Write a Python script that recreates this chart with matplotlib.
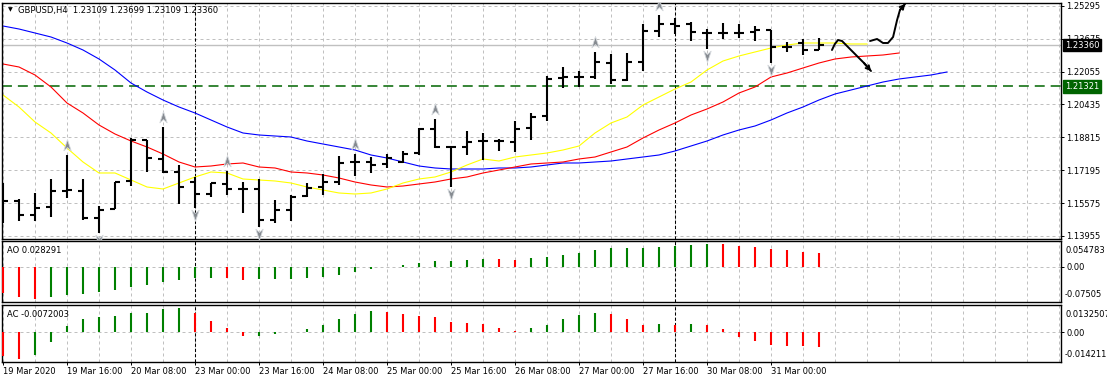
import numpy as np
import matplotlib.pyplot as plt
from matplotlib.path import Path

# --- GBPUSD H4 bars, 19 Mar 2020 00:00 .. 31 Mar 2020 ---
opens = [1.16100, 1.15679, 1.14989, 1.15383, 1.16171, 1.16171, 1.14842, 1.15285, 1.16664, 1.18682,
         1.17747, 1.17107, 1.16614, 1.16023, 1.16516, 1.16270, 1.16270, 1.14743, 1.15236, 1.15925,
         1.16368, 1.16614, 1.17599, 1.17599, 1.17501, 1.17599, 1.18042, 1.19224, 1.18338, 1.18338,
         1.18633, 1.18633, 1.18584, 1.19273, 1.19864, 1.21735, 1.21785, 1.21785, 1.22474, 1.21637,
         1.22523, 1.24050, 1.24394, 1.24394, 1.23951, 1.23951, 1.23951, 1.24000, 1.24099, 1.23262,
         1.23459, 1.23109]
highs = [1.16565, 1.15777, 1.16073, 1.16762, 1.17944, 1.16762, 1.15433, 1.16614, 1.18781, 1.18682,
         1.19323, 1.17451, 1.16861, 1.16565, 1.17156, 1.16614, 1.16762, 1.15728, 1.15974, 1.16565,
         1.17008, 1.17895, 1.17993, 1.17845, 1.17993, 1.18141, 1.19273, 1.19716, 1.18387, 1.19126,
         1.19027, 1.18732, 1.19618, 1.20012, 1.21834, 1.22277, 1.22080, 1.23016, 1.22917, 1.22966,
         1.24394, 1.24837, 1.24690, 1.24493, 1.24148, 1.24443, 1.24394, 1.24296, 1.24099, 1.23508,
         1.23656, 1.23699]
lows = [1.14596, 1.14694, 1.14694, 1.14891, 1.15827, 1.14743, 1.14103, 1.15285, 1.16417, 1.17107,
        1.17058, 1.15531, 1.15334, 1.15876, 1.15974, 1.15088, 1.14399, 1.14596, 1.14694, 1.15876,
        1.15974, 1.16467, 1.16910, 1.17058, 1.17304, 1.17550, 1.17944, 1.18289, 1.16368, 1.17944,
        1.17698, 1.18141, 1.18092, 1.18682, 1.19618, 1.21243, 1.21292, 1.21686, 1.21440, 1.21588,
        1.22080, 1.23754, 1.23902, 1.23557, 1.23163, 1.23656, 1.23705, 1.23557, 1.22474, 1.23016,
        1.22868, 1.23109]
closes = [1.15679, 1.14989, 1.15334, 1.16171, 1.16220, 1.14842, 1.15236, 1.16614, 1.18682, 1.17796,
          1.17107, 1.16368, 1.16023, 1.16565, 1.16270, 1.16270, 1.14743, 1.15236, 1.15876, 1.16319,
          1.16614, 1.17550, 1.17599, 1.17451, 1.17796, 1.17993, 1.19224, 1.18338, 1.18338, 1.18584,
          1.18633, 1.18633, 1.19224, 1.19815, 1.21686, 1.21785, 1.21785, 1.22523, 1.21637, 1.22523,
          1.24050, 1.24394, 1.24296, 1.24000, 1.23951, 1.23951, 1.23951, 1.24099, 1.23262, 1.23262,
          1.23114, 1.23360]

# Alligator lines (already shifted forward: jaw 8, teeth 5, lips 3 bars)
jaw = [1.24296, 1.24148, 1.23951, 1.23754, 1.23459, 1.23114, 1.22671, 1.22129, 1.21489, 1.21046,
       1.20652, 1.20307, 1.20012, 1.19667, 1.19323, 1.19027, 1.18929, 1.18879, 1.18830, 1.18633,
       1.18485, 1.18338, 1.18190, 1.17944, 1.17796, 1.17599, 1.17402, 1.17304, 1.17254, 1.17254,
       1.17254, 1.17304, 1.17304, 1.17353, 1.17451, 1.17550, 1.17550, 1.17599, 1.17648, 1.17747,
       1.17845, 1.17944, 1.18141, 1.18387, 1.18633, 1.18929, 1.19175, 1.19372, 1.19667, 1.20012,
       1.20307, 1.20652, 1.20947, 1.21144, 1.21341, 1.21538, 1.21686, 1.21785, 1.21883, 1.22031]
teeth = [1.22425, 1.22277, 1.21883, 1.21292, 1.20504, 1.20012, 1.19421, 1.18978, 1.18633, 1.18338,
         1.17993, 1.17599, 1.17353, 1.17402, 1.17501, 1.17550, 1.17353, 1.17304, 1.17107, 1.17058,
         1.16959, 1.16811, 1.16614, 1.16467, 1.16368, 1.16417, 1.16516, 1.16614, 1.16762, 1.16861,
         1.17058, 1.17205, 1.17353, 1.17501, 1.17550, 1.17599, 1.17747, 1.17845, 1.18092, 1.18338,
         1.18781, 1.19175, 1.19520, 1.19913, 1.20209, 1.20554, 1.20997, 1.21292, 1.21785, 1.21981,
         1.22228, 1.22474, 1.22671, 1.22769, 1.22819, 1.22868, 1.22966]
lips = [1.20898, 1.20307, 1.19569, 1.19027, 1.18289, 1.17599, 1.17058, 1.17058, 1.16713, 1.16368,
        1.16270, 1.16565, 1.16861, 1.17107, 1.17058, 1.16762, 1.16713, 1.16664, 1.16565, 1.16368,
        1.16220, 1.16073, 1.16023, 1.16073, 1.16270, 1.16565, 1.16762, 1.16861, 1.17107, 1.17451,
        1.17747, 1.17649, 1.17845, 1.17944, 1.18042, 1.18190, 1.18387, 1.19027, 1.19520, 1.19815,
        1.20406, 1.20800, 1.21194, 1.21538, 1.22129, 1.22572, 1.22819, 1.23016, 1.23212, 1.23360,
        1.23459, 1.23459, 1.23459, 1.23410, 1.23410]

ao = [-0.0575, -0.0645, -0.0695, -0.0660, -0.0610, -0.0589, -0.0539, -0.0496, -0.0433, -0.0397,
      -0.0326, -0.0284, -0.0248, -0.0234, -0.0248, -0.0284, -0.0270, -0.0262, -0.0255, -0.0241,
      -0.0220, -0.0177, -0.0113, -0.0057, -0.0014, 0.0028, 0.0071, 0.0113, 0.0121, 0.0135,
      0.0163, 0.0156, 0.0142, 0.0177, 0.0199, 0.0241, 0.0284, 0.0348, 0.0390, 0.0394,
      0.0399, 0.0419, 0.0433, 0.0454, 0.0484, 0.0478, 0.0433, 0.0419, 0.0376, 0.0355,
      0.0312, 0.028291]
ac = [-0.0113, -0.0130, -0.0110, -0.0049, 0.0032, 0.0065, 0.0076, 0.0079, 0.0093, 0.0095,
      0.0115, 0.0120, 0.0094, 0.0055, 0.0023, -0.0019, -0.0016, -0.0008, 0.0003, 0.0016,
      0.0036, 0.0065, 0.0087, 0.0104, 0.0097, 0.0089, 0.0079, 0.0074, 0.0050, 0.0045,
      0.0040, 0.0021, 0.0006, 0.0021, 0.0036, 0.0065, 0.0084, 0.0094, 0.0089, 0.0065,
      0.0036, 0.0040, 0.0036, 0.0040, 0.0036, 0.0016, -0.0021, -0.0042, -0.0062, -0.0065,
      -0.0068, -0.0072003]

fractal_up = [4, 10, 14, 22, 27, 37, 41]
fractal_down = [6, 12, 16, 28, 44, 48]

price_levels = [1.25295, 1.23675, 1.22055, 1.20435, 1.18815, 1.17195, 1.15575, 1.13955]
price_range = (1.13822, 1.25443)
ao_range = (-0.07505, 0.054783)
ac_range = (-0.0142113, 0.0132507)
last_price = 1.23360
level_price = 1.21321

tick_bars = [0, 4, 8, 12, 16, 20, 24, 28, 32, 36, 40, 44, 48]
tick_labels = ['19 Mar 2020', '19 Mar 16:00', '20 Mar 08:00', '23 Mar 00:00', '23 Mar 16:00',
               '24 Mar 08:00', '25 Mar 00:00', '25 Mar 16:00', '26 Mar 08:00', '27 Mar 00:00',
               '27 Mar 16:00', '30 Mar 08:00', '31 Mar 00:00']
week_starts = [12, 42]

# hand drawn forecast strokes (bar, price)
sketch_down = [(51.81, 1.23114), (51.99, 1.23409), (52.19, 1.23606), (52.44, 1.23557),
               (52.81, 1.23262), (53.31, 1.22868), (53.81, 1.22474), (54.25, 1.22080)]
sketch_up = [(54.19, 1.23557), (54.63, 1.23656), (55.0, 1.23459), (55.31, 1.23459),
             (55.63, 1.23754), (55.88, 1.24591), (56.06, 1.25084), (56.38, 1.25379)]

FS = 6.0
plt.rcParams['font.family'] = 'DejaVu Sans'
plt.rcParams['font.size'] = FS

GRID = '#c0c0c0'
GREEN = '#008000'
RED = '#ff0000'

W, H = 1107, 382
fig = plt.figure(figsize=(W / 100, H / 100), dpi=100)


def box(x0, y0, x1, y1):
    return [x0 / W, 1 - y1 / H, (x1 - x0) / W, (y1 - y0) / H]


ax_p = fig.add_axes(box(2, 2.7, 1061, 238.7))
ax_ao = fig.add_axes(box(2, 241, 1061, 301.7), sharex=ax_p)
ax_ac = fig.add_axes(box(2, 305, 1061, 361.7), sharex=ax_p)

for ax in (ax_p, ax_ao, ax_ac):
    for sp in ax.spines.values():
        sp.set_linewidth(1.0)
        sp.set_color('black')
    ax.yaxis.tick_right()
    ax.tick_params(axis='y', direction='out', length=2.2, width=0.7, pad=1.8, labelsize=FS)
    ax.tick_params(axis='x', which='minor', length=0)
    ax.grid(which='both', axis='both', color=GRID, ls=(0, (3, 3)), lw=0.72)
    ax.set_axisbelow(True)
    for b in week_starts:
        ax.axvline(b, color='black', lw=0.75, ls=(0, (3, 2)), zorder=1.5)

ax_p.set_xlim(-0.0625, 66.125)
ax_ac.set_xticks(tick_bars)
ax_ac.set_xticks(np.arange(0, 67, 2), minor=True)
ax_ac.set_xticklabels(tick_labels, ha='left')
ax_ac.tick_params(axis='x', which='major', direction='out', length=2.2, width=0.7, pad=1.8)
for ax in (ax_p, ax_ao):
    ax.tick_params(axis='x', which='both', bottom=False, labelbottom=False)

# --- price panel ---
x = np.arange(len(closes))
ax_p.set_ylim(*price_range)
ax_p.set_yticks(price_levels)
ax_p.set_yticklabels([f'{p:.5f}' for p in price_levels])

ax_p.axhline(last_price, color=GRID, lw=1.0, zorder=1.6)
ax_p.axhline(level_price, color='#006400', lw=1.1, ls=(0, (6.5, 3.9)), zorder=1.7)

ax_p.plot(np.arange(len(jaw)), jaw, color='#0000ff', lw=0.8, zorder=2)
ax_p.plot(np.arange(len(teeth)), teeth, color='#ff0000', lw=0.8, zorder=2)
ax_p.plot(np.arange(len(lips)), lips, color='#ffff00', lw=0.8, zorder=2)

ax_p.vlines(x, lows, highs, color='black', lw=1.5, zorder=3)
ax_p.hlines(opens, x - 0.32, x, color='black', lw=1.5, zorder=3)
ax_p.hlines(closes, x, x + 0.32, color='black', lw=1.5, zorder=3)

up_arrow = Path([(0, 1), (0.62, -0.9), (0, -0.35), (-0.62, -0.9), (0, 1)],
                [Path.MOVETO, Path.LINETO, Path.LINETO, Path.LINETO, Path.CLOSEPOLY])
down_arrow = Path([(0, -1), (0.62, 0.9), (0, 0.35), (-0.62, 0.9), (0, -1)],
                  [Path.MOVETO, Path.LINETO, Path.LINETO, Path.LINETO, Path.CLOSEPOLY])
px = (price_range[1] - price_range[0]) / 236.0
ax_p.plot(fractal_up, [highs[i] + 10 * px for i in fractal_up], ls='none', marker=up_arrow,
          ms=8.5, mfc='#858a90', mec='#d4d8dc', mew=0.6, zorder=4)
ax_p.plot(fractal_down, [lows[i] - 7 * px for i in fractal_down], ls='none', marker=down_arrow,
          ms=8.5, mfc='#858a90', mec='#d4d8dc', mew=0.6, zorder=4)

for path in (sketch_down, sketch_up):
    xs, ys = zip(*path)
    ax_p.plot(xs, ys, color='black', lw=1.4, solid_capstyle='round', zorder=5)
    ax_p.annotate('', xy=path[-1], xytext=path[-2],
                  arrowprops=dict(arrowstyle='->,head_length=0.45,head_width=0.25',
                                  color='black', lw=1.4, shrinkA=0, shrinkB=0), zorder=5)

for price, face in ((last_price, 'black'), (level_price, '#006400')):
    ax_p.annotate(f'{price:.5f}', xy=(1, price), xycoords=ax_p.get_yaxis_transform(),
                  xytext=(2.6, 0), textcoords='offset points', ha='left', va='center',
                  color='white', fontsize=FS, annotation_clip=False, zorder=6,
                  bbox=dict(boxstyle='square,pad=0.22', fc=face, ec=face))

fig.text(8 / W, 1 - 10 / H, '\u25bc', fontsize=4.5, ha='left', va='center')
fig.text(18 / W, 1 - 10 / H, f'GBPUSD,H4  {opens[-1]:.5f} {highs[-1]:.5f} {lows[-1]:.5f} {closes[-1]:.5f}',
         ha='left', va='center', fontsize=FS)


# --- oscillators ---
def bar_colors(vals):
    return [RED] + [GREEN if v >= p else RED for p, v in zip(vals[:-1], vals[1:])]


for ax, vals, rng, name, fmt in ((ax_ao, ao, ao_range, 'AO', '{:.6f}'),
                                 (ax_ac, ac, ac_range, 'AC', '{:.7f}')):
    ax.set_ylim(*rng)
    ax.set_yticks([0])
    ax.set_yticklabels(['0.00'])
    ax.vlines(np.arange(len(vals)), 0, vals, colors=bar_colors(vals), lw=1.5, zorder=3)
    ax.annotate(f'{name} ' + fmt.format(vals[-1]), xy=(0, 1), xycoords='axes fraction',
                xytext=(3.6, -7), textcoords='offset points', ha='left', va='center')
    ax.annotate(f'{rng[1]:.7g}', xy=(1, 1), xycoords='axes fraction', xytext=(2.9, -6.5),
                textcoords='offset points', ha='left', va='center', annotation_clip=False)
    ax.annotate(f'{rng[0]:.7g}', xy=(1, 0), xycoords='axes fraction', xytext=(2.9, 5.0),
                textcoords='offset points', ha='left', va='center', annotation_clip=False)

fig.savefig('out.png', dpi=100)
